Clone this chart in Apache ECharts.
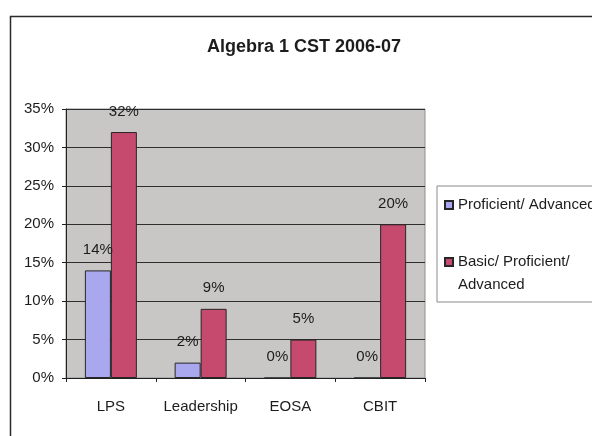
<!DOCTYPE html>
<html>
<head>
<meta charset="utf-8">
<title>Algebra 1 CST 2006-07</title>
<script src="https://cdn.jsdelivr.net/npm/echarts@6/dist/echarts.min.js"></script>
<style>
  html, body { margin: 0; padding: 0; background: #fff; }
  #chart { width: 592px; height: 436px; }
</style>
</head>
<body>
<div id="chart"></div>
<script>
  // data (percent)
  const categories = ['LPS', 'Leadership', 'EOSA', 'CBIT'];
  const proficientAdvanced = [14, 2, 0, 0];
  const basicProficientAdvanced = [32, 9, 5, 20];
  const seriesNames = ['Proficient/ Advanced', 'Basic/ Proficient/ Advanced'];

  const font = "'Liberation Sans', Arial, sans-serif";
  const textColor = '#1c1c1c';

  const chart = echarts.init(document.getElementById('chart'));

  const barLabel = {
    show: true,
    position: 'top',
    distance: 13,
    color: textColor,
    fontFamily: font,
    fontSize: 15,
    formatter: '{c}%'
  };

  chart.setOption({
    backgroundColor: '#ffffff',
    animation: false,
    title: {
      text: 'Algebra 1 CST 2006-07',
      left: 207,
      top: 38,
      padding: 0,
      textStyle: {
        color: textColor,
        fontFamily: font,
        fontSize: 18,
        fontWeight: 'bold'
      }
    },
    // outer chart frame (runs off the right and bottom of the picture)
    graphic: [{
      type: 'rect',
      shape: { x: 10.5, y: 16.5, width: 700, height: 500 },
      style: { fill: 'none', stroke: '#2a2a2a', lineWidth: 1.5 },
      silent: true,
      z: -1
    }],
    legend: {
      orient: 'vertical',
      left: 437,
      top: 186,
      padding: [7.5, 60, 5.5, 7],
      itemGap: 11,
      itemWidth: 8,
      itemHeight: 8,
      icon: 'rect',
      borderColor: '#8a8a8a',
      borderWidth: 1,
      backgroundColor: '#ffffff',
      textStyle: {
        color: textColor,
        fontFamily: font,
        fontSize: 15,
        lineHeight: 23
      },
      formatter(name) {
        if (name === seriesNames[1]) {
          return '\nBasic/ Proficient/\nAdvanced';
        }
        return name;
      },
      data: seriesNames
    },
    grid: {
      left: 66,
      right: 167,
      top: 109,
      bottom: 58,
      show: true,
      backgroundColor: '#c9c7c5',
      borderColor: '#8f8f8f',
      borderWidth: 1
    },
    xAxis: {
      type: 'category',
      data: categories,
      axisLine: { lineStyle: { color: '#222', width: 1 } },
      axisTick: { show: true, length: 4, lineStyle: { color: '#222' } },
      axisLabel: {
        interval: 0,
        margin: 21,
        color: textColor,
        fontFamily: font,
        fontSize: 15
      }
    },
    yAxis: {
      type: 'value',
      min: 0,
      max: 35,
      interval: 5,
      axisLine: { show: true, lineStyle: { color: '#222', width: 1 } },
      axisTick: { show: true, length: 4, lineStyle: { color: '#222' } },
      splitLine: { show: true, lineStyle: { color: '#2e2e2e', width: 1 } },
      axisLabel: {
        margin: 12,
        color: textColor,
        fontFamily: font,
        fontSize: 15,
        formatter: '{value}%'
      }
    },
    series: [{
      name: seriesNames[0],
      type: 'bar',
      barWidth: 26,
      barGap: '0%',
      itemStyle: { color: '#a9a7ee', borderColor: '#262626', borderWidth: 1 },
      label: barLabel,
      data: proficientAdvanced
    }, {
      name: seriesNames[1],
      type: 'bar',
      barWidth: 26,
      barGap: '0%',
      itemStyle: { color: '#c64a6e', borderColor: '#262626', borderWidth: 1 },
      label: barLabel,
      data: basicProficientAdvanced
    }]
  });
</script>
</body>
</html>
